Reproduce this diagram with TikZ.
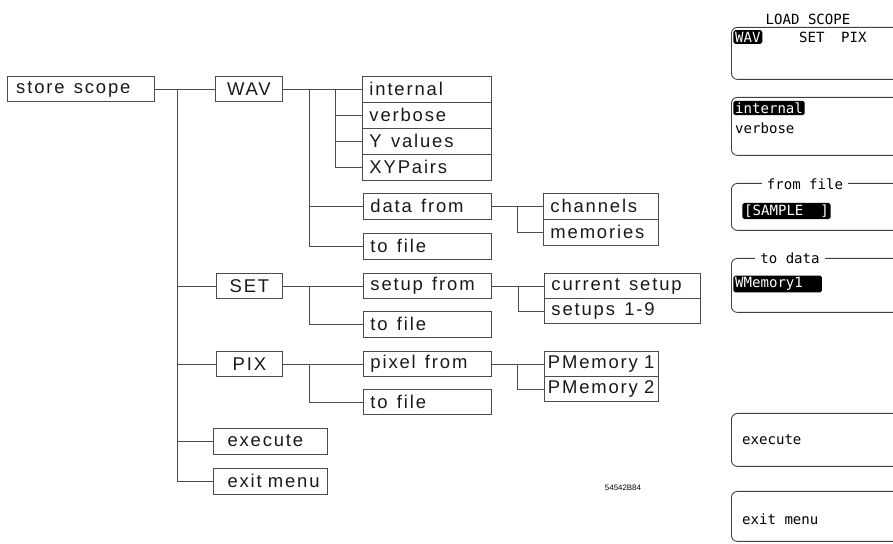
\documentclass[tikz,border=0pt]{standalone}
\usepackage{fontspec}
\setmainfont{Liberation Sans}
\newfontfamily\treefont[LetterSpace=10]{Liberation Sans}
\newfontfamily\panelfont{DejaVu Sans Mono}
\usetikzlibrary{positioning}

\begin{document}
\begin{tikzpicture}[
    x=0.2mm, y=-0.2mm,
    line width=0.5pt,
    menubox/.style={draw, black!70, text=black!90, anchor=west, minimum height=0.5cm, inner xsep=0pt,
        inner ysep=1pt, text width=#1, align=center, font=\treefont\fontsize{10.5}{12}\selectfont},
    leafbox/.style={menubox=#1, minimum height=0.52cm, align=left, inner xsep=4pt},
    link/.style={black!70},
    softkey/.style={draw, black!75, anchor=north west, rounded corners=1.2mm, minimum width=4.4cm},
    keytext/.style={anchor=west, inner sep=1pt, font=\panelfont\fontsize{8}{9}\selectfont},
    inv/.style={keytext, fill=black, text=white, rounded corners=1pt},
    keytitle/.style={keytext, anchor=center, fill=white, inner xsep=3pt}
]
\useasboundingbox (0,0) rectangle (893,544);
\clip (0,0) rectangle (893,544);

% Top level
\node[menubox=2.58cm, align=left, inner xsep=5pt] (store) at (7,89) {store\enspace scope};
\node[menubox=1.34cm] (wav) at (215,89) {WAV};
\node[menubox=1.32cm] (set) at (216,286) {SET};
\node[menubox=1.32cm] (pix) at (216,364) {PIX};
\node[leafbox=1.72cm, inner xsep=8pt] (exec) at (213,441) {execute};
\node[leafbox=1.72cm, inner xsep=8pt] (exitm) at (213,481) {exit~menu};

% WAV branch
\node[leafbox=2.3cm] (internal) at (362,89) {internal};
\node[leafbox=2.3cm] (verbose) at (362,115) {verbose};
\node[leafbox=2.3cm] (yval) at (362,141) {Y\enspace values};
\node[leafbox=2.3cm] (xyp) at (362,167) {XYPairs};
\node[leafbox=2.28cm] (datafrom) at (363,206) {data\enspace from};
\node[leafbox=2.28cm] (wavfile) at (363,246) {to\enspace file};
\node[leafbox=2.02cm] (chan) at (543,206) {channels};
\node[leafbox=2.02cm] (mem) at (543,232) {memories};

% SET branch
\node[leafbox=2.28cm, minimum height=0.5cm] (setupfrom) at (363,286) {setup\enspace from};
\node[leafbox=2.28cm] (setfile) at (363,324) {to\enspace file};
\node[leafbox=2.84cm, minimum height=0.5cm] (cur) at (544,286) {current\enspace setup};
\node[leafbox=2.84cm, minimum height=0.5cm] (setups) at (544,311) {setups\enspace 1-9};

% PIX branch
\node[leafbox=2.28cm, minimum height=0.5cm] (pixfrom) at (363,364) {pixel\enspace from};
\node[leafbox=2.28cm, minimum height=0.5cm] (pixfile) at (363,402) {to\enspace file};
\node[leafbox=2.14cm, inner xsep=2pt, minimum height=0.5cm] (pm1) at (544,364) {PMemory~1};
\node[leafbox=2.14cm, inner xsep=2pt, minimum height=0.5cm] (pm2) at (544,389) {PMemory~2};

% Junctions
\coordinate (j0) at (177,89);
\coordinate (jw) at (309,89);
\coordinate (jw2) at (335,89);
\coordinate (jd) at (517,206);
\coordinate (js) at (309,286);
\coordinate (jsu) at (518,286);
\coordinate (jp) at (309,364);
\coordinate (jpm) at (517,364);

% Connections
\draw[link] (store) -- (wav);
\foreach \n in {set, pix, exec, exitm}
    \draw[link] (j0) |- (\n.west);
\draw[link] (wav) -- (internal);
\foreach \n in {verbose, yval, xyp}
    \draw[link] (jw2) |- (\n.west);
\foreach \n in {datafrom, wavfile}
    \draw[link] (jw) |- (\n.west);
\draw[link] (datafrom) -- (chan);
\draw[link] (jd) |- (mem.west);
\draw[link] (set) -- (setupfrom);
\draw[link] (js) |- (setfile.west);
\draw[link] (setupfrom) -- (cur);
\draw[link] (jsu) |- (setups.west);
\draw[link] (pix) -- (pixfrom);
\draw[link] (jp) |- (pixfile.west);
\draw[link] (pixfrom) -- (pm1);
\draw[link] (jpm) |- (pm2.west);

\node[font=\fontsize{4.5}{5}\selectfont] (figno) at (623,488) {54542B84};

% Softkey panel
\node[keytext, anchor=center] (title) at (808,19) {LOAD SCOPE};
\node[softkey, minimum height=1.04cm] (k1) at (731,27) {};
\node[softkey, minimum height=1.16cm] (k2) at (731,97) {};
\node[softkey, minimum height=0.94cm] (k3) at (731,183) {};
\node[softkey, minimum height=1.08cm] (k4) at (731,258) {};
\node[softkey, minimum height=1.06cm] (k5) at (731,413) {};
\node[softkey, minimum height=1.0cm] (k6) at (731,491) {};

\node[inv] (kwav) at (733,37) {WAV};
\node[keytext] (kset) at (797,37) {SET};
\node[keytext] (kpix) at (839,37) {PIX};
\node[inv] (kint) at (733,108) {internal};
\node[keytext] (kverb) at (733,128) {verbose};
\node[keytitle] (kfrom) at (805,184) {from file};
\node[inv] (ksample) at (742,211) {[SAMPLE\ \ ]};
\node[keytitle] (kto) at (790,258) {to data};
\node[inv, text width=1.7cm, align=left] (kwmem) at (733,284) {WMemory1};
\node[keytext] (kexec) at (740,440) {execute};
\node[keytext] (kexit) at (740,519) {exit menu};

\end{tikzpicture}
\end{document}
